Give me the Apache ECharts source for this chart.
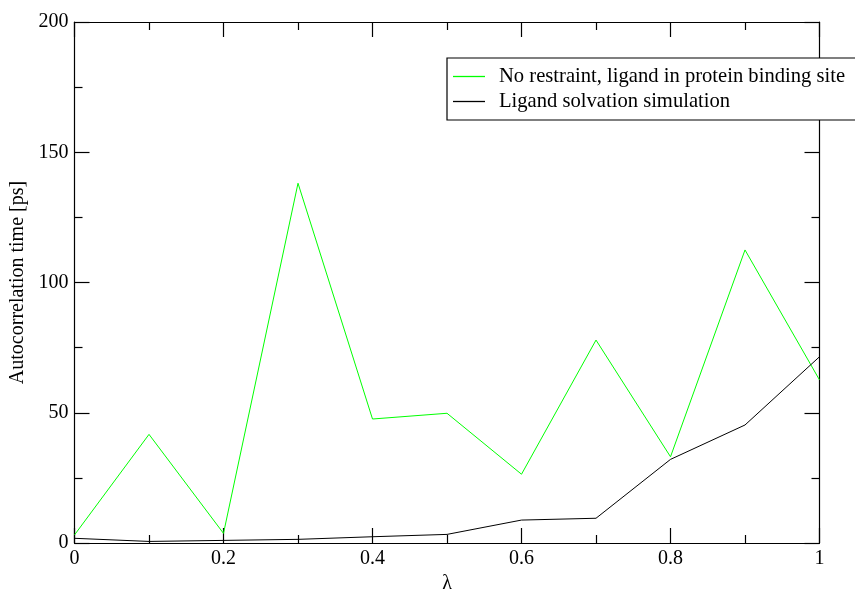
<!DOCTYPE html>
<html>
<head>
<meta charset="utf-8">
<script src="https://cdn.jsdelivr.net/npm/echarts@6/dist/echarts.min.js"></script>
<style>html,body{margin:0;padding:0;background:#fff;}#c{width:855px;height:590px;}</style>
</head>
<body>
<div id="c"></div>
<script>
const lambdas = [0, 0.1, 0.2, 0.3, 0.4, 0.5, 0.6, 0.7, 0.8, 0.9, 1.0];
const bindingSite = [3.1, 41.7, 3.7, 138.1, 47.6, 49.8, 26.4, 77.9, 33.1, 112.5, 62.6];
const solvation = [1.8, 0.6, 1.0, 1.4, 2.4, 3.3, 8.8, 9.5, 32.1, 45.3, 71.5];
const seriesNames = ['No restraint, ligand in protein binding site', 'Ligand solvation simulation'];
const xTicks = { min: 0, max: 1, interval: 0.2 };
const yTicks = { min: 0, max: 200, interval: 50 };

const font = 'Liberation Serif';
const chart = echarts.init(document.getElementById('c'));
function mkX(pos, show) {
  return {
    type: 'value', position: pos, min: xTicks.min, max: xTicks.max, interval: xTicks.interval,
    name: show ? 'λ' : '', nameLocation: 'middle', nameGap: 30,
    nameTextStyle: { fontFamily: font, fontSize: 20, color: '#000' },
    axisLine: { show: true, onZero: false, lineStyle: { color: '#000', width: 1.2 } },
    axisTick: { show: true, inside: true, length: 15, lineStyle: { color: '#000', width: 1.2 } },
    minorTick: { show: true, splitNumber: 2, length: 8, lineStyle: { color: '#000', width: 1.2 } },
    axisLabel: { show: show, fontFamily: font, fontSize: 20, color: '#000', margin: 6,
      formatter: v => String(Math.round(v * 10) / 10) },
    splitLine: { show: false }, minorSplitLine: { show: false }
  };
}
function mkY(pos, show) {
  return {
    type: 'value', position: pos, min: yTicks.min, max: yTicks.max, interval: yTicks.interval,
    name: show ? 'Autocorrelation time [ps]' : '', nameLocation: 'middle', nameGap: 47,
    nameTextStyle: { fontFamily: font, fontSize: 20, color: '#000' },
    axisLine: { show: true, onZero: false, lineStyle: { color: '#000', width: 1.2 } },
    axisTick: { show: true, inside: true, length: 15, lineStyle: { color: '#000', width: 1.2 } },
    minorTick: { show: true, splitNumber: 2, length: 8, lineStyle: { color: '#000', width: 1.2 } },
    axisLabel: { show: show, fontFamily: font, fontSize: 20, color: '#000', margin: 6 },
    splitLine: { show: false }, minorSplitLine: { show: false }
  };
}
chart.setOption({
  animation: false,
  backgroundColor: '#fff',
  grid: { left: 74.5, top: 22, right: 35.5, bottom: 47, containLabel: false, outerBoundsMode: 'none' },
  xAxis: [mkX('bottom', true), mkX('top', false)],
  yAxis: [mkY('left', true), mkY('right', false)],
  legend: {
    left: 447, top: 58, orient: 'vertical', icon: 'rect', itemWidth: 32, itemHeight: 1.3, itemGap: 4,
    padding: [8, 40, 8, 6],
    borderColor: '#000', borderWidth: 1.2, backgroundColor: '#fff', borderRadius: 0,
    textStyle: { fontFamily: font, fontSize: 20.6, lineHeight: 21, color: '#000', padding: [0, 0, 0, 9] },
    data: seriesNames
  },
  series: [
    { name: seriesNames[0], type: 'line', symbol: 'none', xAxisIndex: 0, yAxisIndex: 0,
      data: lambdas.map((x, i) => [x, bindingSite[i]]),
      lineStyle: { color: '#00ff00', width: 1 }, itemStyle: { color: '#00ff00' } },
    { name: seriesNames[1], type: 'line', symbol: 'none', xAxisIndex: 0, yAxisIndex: 0,
      data: lambdas.map((x, i) => [x, solvation[i]]),
      lineStyle: { color: '#000', width: 1 }, itemStyle: { color: '#000' } }
  ]
});
</script>
</body>
</html>
